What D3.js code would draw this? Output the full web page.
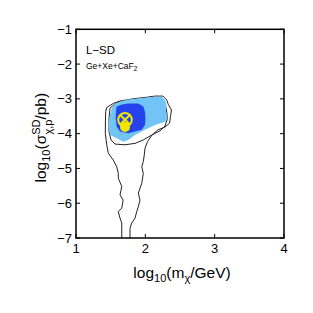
<!DOCTYPE html>
<html>
<head>
<meta charset="utf-8">
<script src="https://cdn.jsdelivr.net/npm/d3@7"></script>
<style>
  html, body { margin: 0; padding: 0; background: #fff; }
  svg { display: block; font-family: "Liberation Sans", Arial, Helvetica, sans-serif; }
</style>
</head>
<body>
<svg id="chart" width="313" height="313"></svg>
<script>
// axis ticks
const xTicks = [1, 2, 3, 4];
const yTicks = [-1, -2, -3, -4, -5, -6, -7];

// outer contour (open at bottom, log10 m, log10 sigma)
const outerContour = [
  [1.66, -7.0], [1.66, -6.57], [1.635, -6.43], [1.61, -6.24], [1.66, -6.14],
  [1.68, -5.91], [1.635, -5.76], [1.66, -5.52], [1.61, -5.28], [1.61, -5.14],
  [1.587, -4.95], [1.538, -4.76], [1.466, -4.56], [1.443, -4.32], [1.423, -3.99],
  [1.425, -3.61], [1.428, -3.37], [1.443, -3.25], [1.538, -3.13], [1.635, -3.06],
  [1.731, -3.03], [1.851, -2.99], [1.995, -2.96], [2.139, -2.92], [2.255, -2.92],
  [2.308, -3.03], [2.331, -3.16], [2.377, -3.32], [2.363, -3.51], [2.349, -3.7],
  [2.284, -3.81], [2.183, -3.89], [2.096, -4.04], [2.031, -4.23], [1.995, -4.42],
  [1.985, -4.61], [1.971, -4.8], [1.948, -4.95], [1.971, -5.14], [1.948, -5.43],
  [1.899, -5.71], [1.923, -5.91], [1.899, -6.1], [1.876, -6.24], [1.851, -6.43],
  [1.803, -6.57], [1.779, -6.72], [1.779, -7.0]
];

// inner contour (closed)
const innerContour = [
  [1.563, -3.14], [1.49, -3.27], [1.476, -3.56], [1.476, -3.94], [1.505, -4.18],
  [1.563, -4.3], [1.707, -4.32], [1.851, -4.28], [1.971, -4.18], [2.092, -4.04],
  [2.212, -3.92], [2.284, -3.78], [2.32, -3.56], [2.305, -3.32], [2.277, -3.09],
  [2.212, -2.97], [2.067, -2.99], [1.923, -3.03], [1.75, -3.07], [1.635, -3.09]
];

// light blue region
const region95 = [
  [1.515, -3.27], [1.563, -3.13], [1.663, -3.06], [1.754, -3.02], [1.894, -2.99],
  [1.995, -2.97], [2.115, -2.94], [2.236, -2.94], [2.284, -3.03], [2.308, -3.18],
  [2.294, -3.32], [2.323, -3.56], [2.284, -3.66], [2.139, -3.75], [1.995, -3.89],
  [1.851, -4.04], [1.754, -4.18], [1.682, -4.23], [1.587, -4.13], [1.49, -4.04],
  [1.466, -3.75], [1.49, -3.46]
];

// dark blue region
const region68 = [
  [1.587, -3.22], [1.663, -3.16], [1.754, -3.13], [1.899, -3.13], [1.971, -3.22],
  [1.995, -3.37], [2.002, -3.55], [1.995, -3.75], [1.948, -3.89], [1.851, -3.94],
  [1.754, -3.99], [1.635, -3.94], [1.587, -3.8], [1.572, -3.56], [1.577, -3.35]
];

// benchmark point and best fit
const truePoint = [1.707, -3.6];
const bestFit = [1.707, -3.81];

const svg = d3.select("#chart");
const margin = { top: 29.3, right: 29, bottom: 75, left: 76 };
const width = 313, height = 313;

const x = d3.scaleLinear().domain([1, 4]).range([margin.left, width - margin.right]);
const y = d3.scaleLinear().domain([-7, -1]).range([height - margin.bottom, margin.top]);

svg.append("clipPath").attr("id", "plotclip")
  .append("rect")
  .attr("x", x(1)).attr("y", y(-1))
  .attr("width", x(4) - x(1)).attr("height", y(-7) - y(-1));

const line = d3.line().x((d) => x(d[0])).y((d) => y(d[1]));
const closed = d3.line().x((d) => x(d[0])).y((d) => y(d[1])).curve(d3.curveLinearClosed);

const plot = svg.append("g").attr("clip-path", "url(#plotclip)");

plot.append("path").attr("d", line(outerContour))
  .attr("fill", "none").attr("stroke", "#222").attr("stroke-width", 1);
plot.append("path").attr("d", closed(innerContour))
  .attr("fill", "none").attr("stroke", "#222").attr("stroke-width", 1);

plot.append("path").attr("d", closed(region95)).attr("fill", "#72c4f6");
plot.append("path").attr("d", closed(region68)).attr("fill", "#2443ec");

const yellow = "#f2e600";
plot.append("circle")
  .attr("cx", x(bestFit[0])).attr("cy", y(bestFit[1])).attr("r", 5)
  .attr("fill", yellow);
const tp = plot.append("g").attr("transform", `translate(${x(truePoint[0])},${y(truePoint[1])})`);
tp.append("circle").attr("r", 6.8).attr("fill", "none")
  .attr("stroke", yellow).attr("stroke-width", 2);
const k = 6.8 * Math.SQRT1_2;
tp.append("path").attr("d", `M${-k},${-k}L${k},${k}M${k},${-k}L${-k},${k}`)
  .attr("stroke", yellow).attr("stroke-width", 2);

// ticks, inward on all four sides
const tl = 4;
const ticks = svg.append("g").attr("stroke", "#000").attr("stroke-width", 1);
xTicks.forEach((t) => {
  ticks.append("line").attr("x1", x(t)).attr("x2", x(t)).attr("y1", y(-7)).attr("y2", y(-7) - tl);
  ticks.append("line").attr("x1", x(t)).attr("x2", x(t)).attr("y1", y(-1)).attr("y2", y(-1) + tl);
});
yTicks.forEach((t) => {
  ticks.append("line").attr("x1", x(1)).attr("x2", x(1) + tl).attr("y1", y(t)).attr("y2", y(t));
  ticks.append("line").attr("x1", x(4)).attr("x2", x(4) - tl).attr("y1", y(t)).attr("y2", y(t));
});

svg.append("rect")
  .attr("x", x(1)).attr("y", y(-1))
  .attr("width", x(4) - x(1)).attr("height", y(-7) - y(-1))
  .attr("fill", "none").attr("stroke", "#000").attr("stroke-width", 1.5);

// tick labels
svg.append("g").selectAll("text").data(xTicks).join("text")
  .attr("x", (d) => x(d)).attr("y", y(-7) + 15)
  .attr("text-anchor", "middle").attr("font-size", 13)
  .text((d) => d);
svg.append("g").selectAll("text").data(yTicks).join("text")
  .attr("x", x(1) - 4).attr("y", (d) => y(d) + 4.5)
  .attr("text-anchor", "end").attr("font-size", 13)
  .text((d) => "\u2212" + Math.abs(d));

// axis titles
const xt = svg.append("text").attr("x", (x(1) + x(4)) / 2 + 2).attr("y", 278)
  .attr("text-anchor", "middle").attr("font-size", 15.5);
xt.append("tspan").text("log");
xt.append("tspan").attr("font-size", 11).attr("dy", 4).text("10");
xt.append("tspan").attr("dy", -4).text("(m");
xt.append("tspan").attr("font-size", 11).attr("dy", 4).text("\u03c7");
xt.append("tspan").attr("dy", -4).text("/GeV)");

const yt = svg.append("text")
  .attr("transform", `translate(46, ${(y(-1) + y(-7)) / 2 + 4}) rotate(-90)`)
  .attr("text-anchor", "middle").attr("font-size", 15.5);
yt.append("tspan").text("log");
yt.append("tspan").attr("font-size", 11).attr("dy", 4).text("10");
yt.append("tspan").attr("dy", -4).text("(\u03c3");
yt.append("tspan").attr("font-size", 11).attr("dy", -6).text("SD");
yt.append("tspan").attr("font-size", 11).attr("dx", -15).attr("dy", 12).text("\u03c7,p");
yt.append("tspan").attr("dy", -6).text("/pb)");

// annotations
svg.append("text").attr("x", 86).attr("y", 54).attr("font-size", 11.5).text("L\u2212SD");
const lab = svg.append("text").attr("x", 86).attr("y", 69).attr("font-size", 8.5);
lab.append("tspan").text("Ge+Xe+CaF");
lab.append("tspan").attr("font-size", 6.5).attr("dy", 2).text("2");
</script>
</body>
</html>
